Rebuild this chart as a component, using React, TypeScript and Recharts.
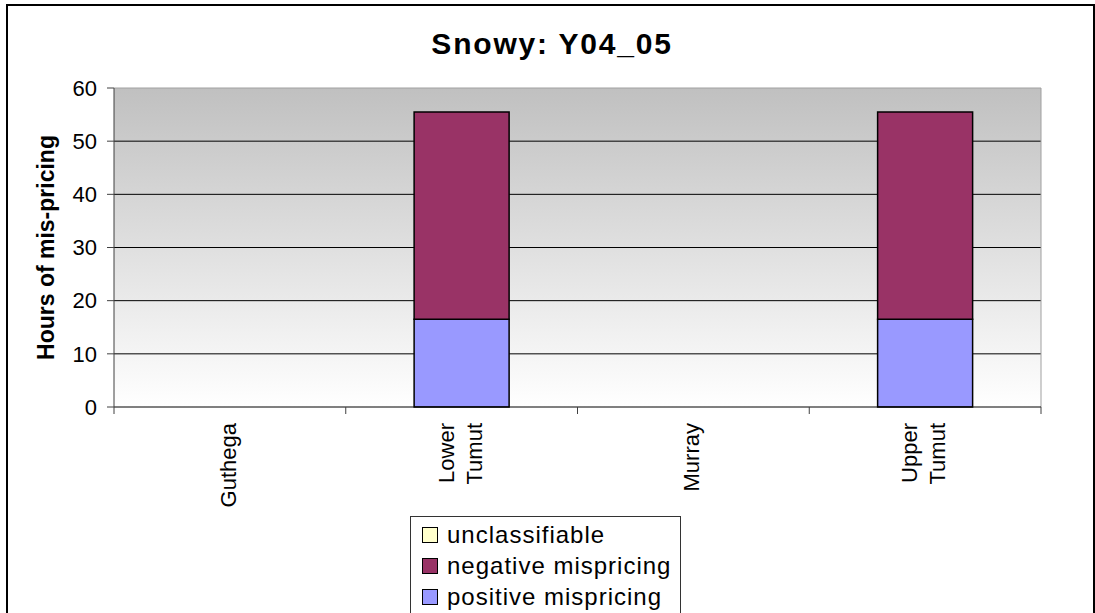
import React from "react";
import {
  BarChart,
  Bar,
  XAxis,
  YAxis,
  CartesianGrid,
  Legend,
} from "recharts";

// values
const categories = ["Guthega", "Lower Tumut", "Murray", "Upper Tumut"];
const positiveMispricing = [0, 16.5, 0, 16.5];
const negativeMispricing = [0, 39, 0, 39];
const unclassifiable = [0, 0, 0, 0];
const yTicks = [0, 10, 20, 30, 40, 50, 60];
const gridValues = [10, 20, 30, 40, 50];
const borderValues = [60];
const legendOrder = ["unclassifiable", "negative mispricing", "positive mispricing"];

const FONT = "Arial, 'Liberation Sans', sans-serif";

const data = categories.map((name, i) => ({
  name,
  positive: positiveMispricing[i],
  negative: negativeMispricing[i],
  unclassifiable: unclassifiable[i],
}));

// category label plus the "between categories" tick marks
function CategoryTick({ x, y, payload, index }: any) {
  const lines = String(payload.value).split(" ");
  const lineGap = 28;
  const first = 6 - ((lines.length - 1) * lineGap) / 2;
  const half = payload.offset || 0;
  return (
    <g>
      {index === 0 && (
        <line x1={x - half} x2={x - half} y1={y} y2={y + 7} stroke="#404040" />
      )}
      <line x1={x + half} x2={x + half} y1={y} y2={y + 7} stroke="#404040" />
      <g transform={`translate(${x},${y + 16}) rotate(-90)`}>
        <text textAnchor="end" fontSize={22} fontFamily={FONT} fill="#000">
          {lines.map((l, i) => (
            <tspan key={l} x={0} y={first + i * lineGap}>
              {l}
            </tspan>
          ))}
        </text>
      </g>
    </g>
  );
}

function YLabel({ viewBox }: any) {
  const cx = viewBox.x + 46;
  const cy = viewBox.y + viewBox.height / 2;
  return (
    <text
      x={cx}
      y={cy}
      transform={`rotate(-90, ${cx}, ${cy})`}
      textAnchor="middle"
      dominantBaseline="central"
      fontSize={23}
      fontWeight="bold"
      fontFamily={FONT}
      fill="#000"
    >
      Hours of mis-pricing
    </text>
  );
}

function LegendBox({ payload }: any) {
  const items = [...(payload || [])].sort(
    (a: any, b: any) => legendOrder.indexOf(a.value) - legendOrder.indexOf(b.value)
  );
  return (
    <div
      style={{
        border: "1px solid #333",
        background: "#fff",
        padding: "2px 8px 6px 11px",
        fontFamily: FONT,
        fontSize: 24,
        letterSpacing: 1,
        color: "#000",
      }}
    >
      {items.map((it: any) => (
        <div
          key={it.value}
          style={{ display: "flex", alignItems: "center", height: 31 }}
        >
          <span
            style={{
              display: "inline-block",
              width: 14,
              height: 14,
              background: it.color,
              border: "1.5px solid #000",
              marginRight: 9,
            }}
          />
          <span>{it.value}</span>
        </div>
      ))}
    </div>
  );
}

export default function App() {
  return (
    <div
      style={{
        position: "absolute",
        left: 0,
        top: 0,
        width: 1095,
        height: 613,
        overflow: "hidden",
        background: "#fff",
      }}
    >
      <div
        style={{
          position: "absolute",
          left: 6,
          top: 4,
          width: 1089,
          height: 700,
          border: "2px solid #000",
          boxSizing: "border-box",
        }}
      />
      <div
        style={{
          position: "absolute",
          left: 0,
          top: 29,
          width: 1095,
          paddingLeft: 9,
          boxSizing: "border-box",
          textAlign: "center",
          fontFamily: FONT,
          fontSize: 30,
          fontWeight: "bold",
          lineHeight: "30px",
          letterSpacing: 1.8,
        }}
      >
        Snowy: Y04_05
      </div>
      <div style={{ position: "absolute", left: 0, top: 0 }}>
        <BarChart
          width={1095}
          height={613}
          data={data}
          margin={{ top: 88, right: 54, left: 0, bottom: 0 }}
          barCategoryGap="29.5%"
        >
          <defs>
            <linearGradient id="plotBg" x1="0" y1="0" x2="0" y2="1">
              <stop offset="0%" stopColor="#c0c0c0" />
              <stop offset="100%" stopColor="#ffffff" />
            </linearGradient>
          </defs>
          <CartesianGrid
            vertical={false}
            stroke="#000"
            fill="url(#plotBg)"
            fillOpacity={1}
            horizontalValues={gridValues}
          />
          <CartesianGrid
            stroke="#a0a0a0"
            horizontalValues={borderValues}
            verticalCoordinatesGenerator={({ offset }: any) => [
              offset.left + offset.width,
            ]}
          />
          <XAxis
            dataKey="name"
            height={206}
            interval={0}
            tickLine={false}
            axisLine={{ stroke: "#000" }}
            tickSize={0}
            tickMargin={0}
            tick={<CategoryTick />}
          />
          <YAxis
            width={114}
            domain={[0, 60]}
            ticks={yTicks}
            interval={0}
            tickSize={7}
            tickMargin={10}
            tick={{ fontSize: 22, fill: "#000", fontFamily: FONT }}
            tickLine={{ stroke: "#404040" }}
            axisLine={{ stroke: "#404040" }}
            label={<YLabel />}
          />
          <Legend
            layout="vertical"
            align="center"
            verticalAlign="middle"
            wrapperStyle={{ left: 410, top: 516, width: 271 }}
            content={<LegendBox />}
          />
          <Bar
            dataKey="positive"
            name="positive mispricing"
            stackId="a"
            fill="#9999ff"
            stroke="#000"
            strokeWidth={1.5}
            isAnimationActive={false}
          />
          <Bar
            dataKey="negative"
            name="negative mispricing"
            stackId="a"
            fill="#993366"
            stroke="#000"
            strokeWidth={1.5}
            isAnimationActive={false}
          />
          <Bar
            dataKey="unclassifiable"
            name="unclassifiable"
            stackId="a"
            fill="#ffffcc"
            stroke="#000"
            strokeWidth={1.5}
            isAnimationActive={false}
          />
        </BarChart>
      </div>
    </div>
  );
}
